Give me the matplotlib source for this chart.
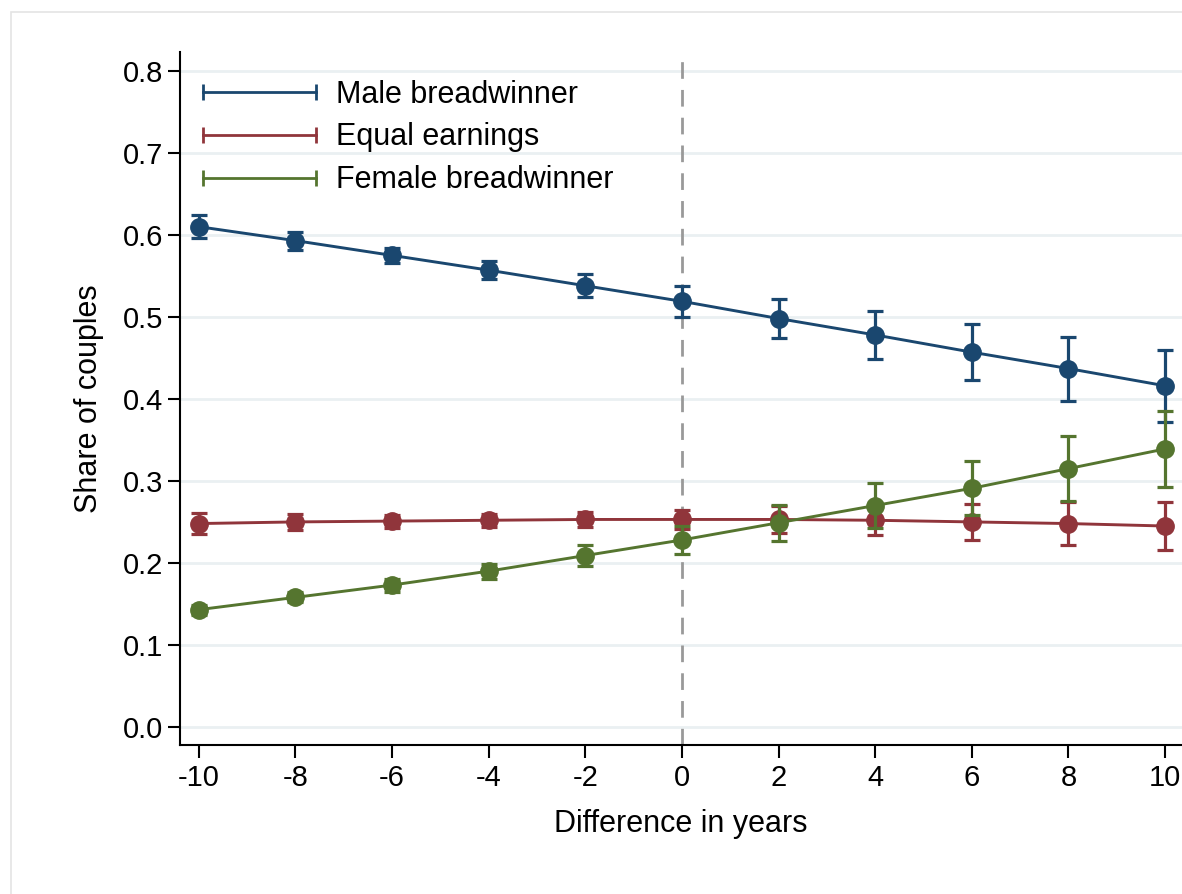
import matplotlib.pyplot as plt
from matplotlib.lines import Line2D
from matplotlib.patches import Rectangle

plt.rcParams['font.family'] = ['Liberation Sans', 'DejaVu Sans']

years = [-10, -8, -6, -4, -2, 0, 2, 4, 6, 8, 10]

male = [0.610, 0.593, 0.575, 0.557, 0.538, 0.519, 0.498, 0.478, 0.457, 0.437, 0.416]
male_err = [0.014, 0.011, 0.0095, 0.011, 0.014, 0.019, 0.024, 0.029, 0.034, 0.039, 0.044]

equal = [0.248, 0.250, 0.251, 0.252, 0.253, 0.253, 0.253, 0.252, 0.250, 0.248, 0.245]
equal_err = [0.013, 0.010, 0.008, 0.008, 0.009, 0.012, 0.016, 0.018, 0.022, 0.026, 0.029]

female = [0.143, 0.158, 0.173, 0.190, 0.209, 0.228, 0.249, 0.270, 0.291, 0.315, 0.339]
female_err = [0.006, 0.006, 0.008, 0.009, 0.013, 0.017, 0.022, 0.027, 0.033, 0.040, 0.046]

series = [
    ("Male breadwinner", male, male_err, "#1a476f"),
    ("Equal earnings", equal, equal_err, "#90353b"),
    ("Female breadwinner", female, female_err, "#55752f"),
]

fig = plt.figure(figsize=(11.82, 8.94), dpi=100)
fig.patches.append(Rectangle((0.009, -0.01), 1.0, 0.997, transform=fig.transFigure,
                             fill=False, edgecolor="#e4e4e4", linewidth=1.2))
ax = fig.add_axes([0.1523, 0.1667, 0.8477, 0.7751])

for y in [0.0, 0.1, 0.2, 0.3, 0.4, 0.5, 0.6, 0.7, 0.8]:
    ax.axhline(y, color="#eaf0f2", linewidth=2, zorder=0)

ax.axvline(0, color="#999999", linewidth=2, linestyle=(0, (6, 4)), zorder=1)

handles = []
for i, (name, vals, err, col) in enumerate(series):
    ax.errorbar(years, vals, yerr=err, color=col, marker="o", markersize=12.5,
                linewidth=2.1, elinewidth=2.3, capsize=6, capthick=2.3,
                zorder=3 + i)
    handles.append(Line2D([0], [0], color=col, linewidth=2, marker="|",
                          markersize=11, markeredgewidth=2))

leg = ax.legend(handles, [s[0] for s in series], loc="upper left", numpoints=2,
                frameon=False, fontsize=22, handlelength=4.3, handletextpad=0.36,
                labelspacing=0.42, bbox_to_anchor=(-0.014, 1.0))

ax.set_xlim(-10.39, 10.35)
ax.set_ylim(-0.022, 0.823)
ax.set_xticks(years)
ax.set_xticklabels([str(v) for v in years])
ax.set_yticks([0.0, 0.1, 0.2, 0.3, 0.4, 0.5, 0.6, 0.7, 0.8])
ax.set_yticklabels(["0.0", "0.1", "0.2", "0.3", "0.4", "0.5", "0.6", "0.7", "0.8"])
ax.tick_params(axis="both", labelsize=21, length=9, width=1.5, direction="out", pad=5)
ax.tick_params(axis="y", pad=3)

for s in ["top", "right"]:
    ax.spines[s].set_visible(False)
for s in ["left", "bottom"]:
    ax.spines[s].set_linewidth(1.5)

ax.set_xlabel("Difference in years", fontsize=22, labelpad=12)
ax.set_ylabel("Share of couples", fontsize=22, labelpad=14)

fig.savefig("out.png", dpi=100)
